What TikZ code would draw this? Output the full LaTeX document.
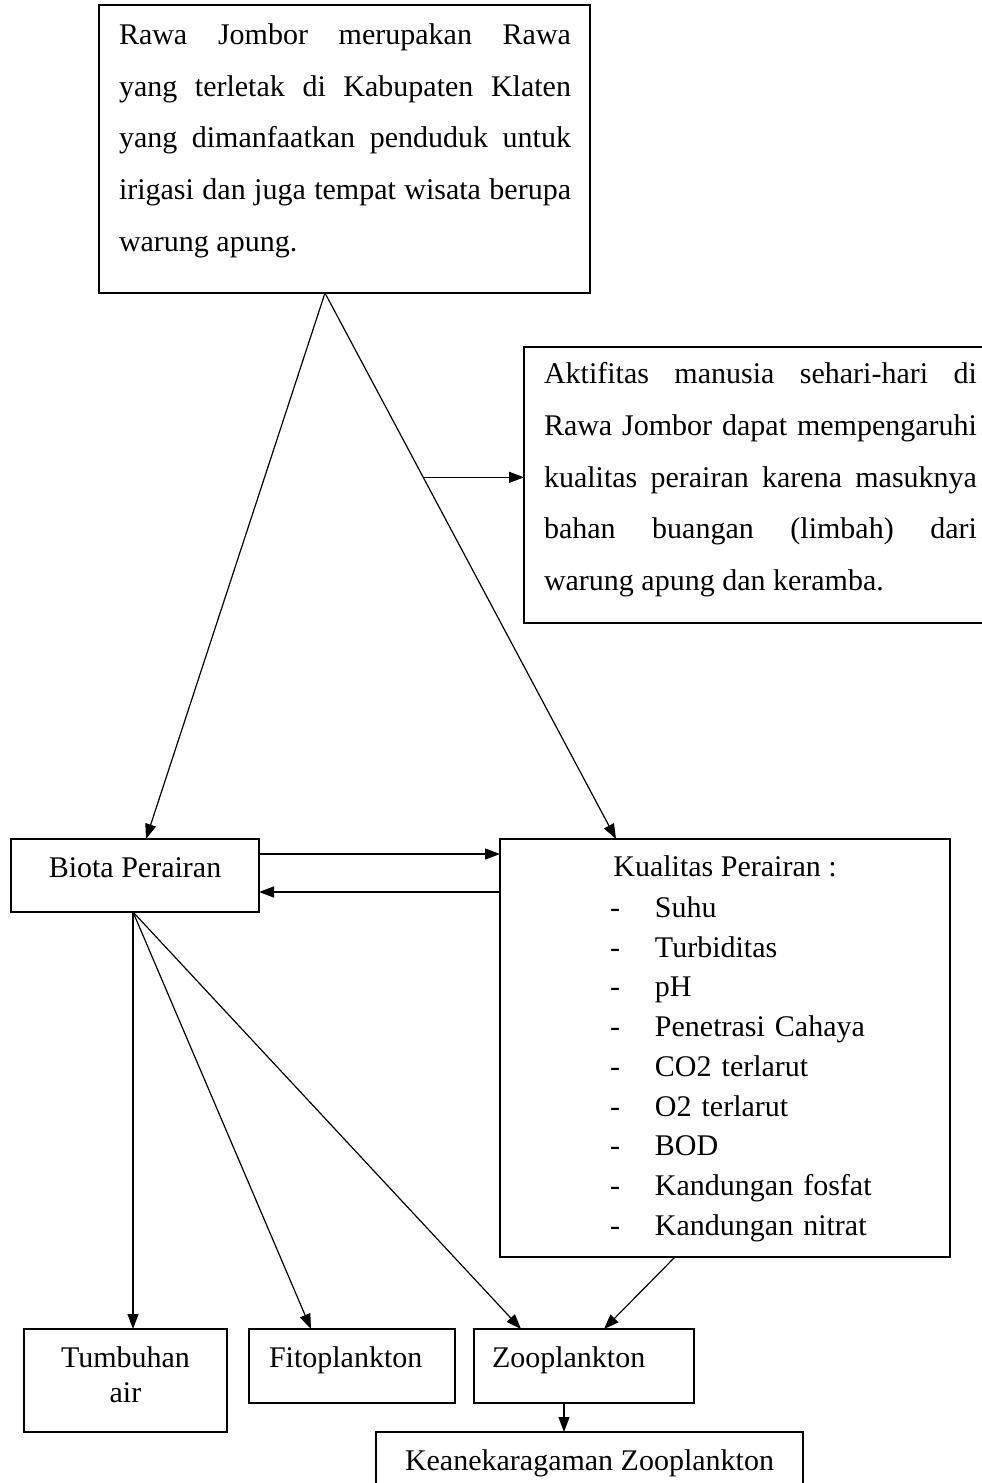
\documentclass[tikz,border=0pt]{standalone}
\usepackage{fontspec}
\setmainfont{Liberation Serif}
\usetikzlibrary{arrows.meta,calc}
\tikzset{
  box/.style={draw, line width=1.7pt, inner sep=0pt, outer sep=0pt, anchor=north west},
  txt/.style={inner sep=0pt, outer sep=0pt, font=\fontsize{30}{51.75}\selectfont},
  parbox/.style={txt, text width=#1, align=justify, anchor=north west},
  link/.style={line width=1.2pt, -{Triangle[length=15pt,width=11pt]}},
}
\begin{document}
\begin{tikzpicture}[x=1pt,y=-1pt]
\useasboundingbox (0,0) rectangle (982,1483);
% top box
\node[box, minimum width=491pt, minimum height=288pt] (rawa) at (99,5) {};
\node[parbox=452pt] (rawaT) at (119,23.5) {\tolerance=10000\noindent Rawa Jombor merupakan Rawa\linebreak yang terletak di Kabupaten Klaten\linebreak yang dimanfaatkan penduduk untuk\linebreak irigasi dan juga tempat wisata berupa\linebreak warung apung.};
% activity box
\node[box, minimum width=473pt, minimum height=276pt] (akt) at (524,347) {};
\node[parbox=433pt] (aktT) at (544,362.5) {\tolerance=10000\noindent Aktifitas manusia sehari-hari di\linebreak Rawa Jombor dapat mempengaruhi\linebreak kualitas perairan karena masuknya\linebreak bahan buangan (limbah) dari\linebreak warung apung dan keramba.};
% biota
\node[box, minimum width=248pt, minimum height=73pt] (biota) at (11,839) {};
\node[txt, anchor=base] (biotaT) at (135,877) {Biota Perairan};
% kualitas
\node[box, minimum width=450pt, minimum height=418pt] (kual) at (500,839) {};
\node[txt, anchor=base] (kualT) at (725,876) {Kualitas Perairan :};
\node[txt, anchor=north west, text width=330pt, align=left, font=\fontsize{30}{39.75}\selectfont] (list) at (610,896.5)
{\makebox[45pt][l]{-}Suhu\\
 \makebox[45pt][l]{-}Turbiditas\\
 \makebox[45pt][l]{-}pH\\
 \makebox[45pt][l]{-}Penetrasi Cahaya\\
 \makebox[45pt][l]{-}CO2 terlarut\\
 \makebox[45pt][l]{-}O2 terlarut\\
 \makebox[45pt][l]{-}BOD\\
 \makebox[45pt][l]{-}Kandungan fosfat\\
 \makebox[45pt][l]{-}Kandungan nitrat};
% bottom boxes
\node[box, minimum width=203pt, minimum height=103pt] (tumb) at (24,1329) {};
\node[txt, anchor=north, align=center, font=\fontsize{30}{35}\selectfont] (tumbT) at (125.5,1346.5) {Tumbuhan\\air};
\node[box, minimum width=206pt, minimum height=74pt] (fito) at (249,1329) {};
\node[txt, anchor=base west] (fitoT) at (269,1367) {Fitoplankton};
\node[box, minimum width=220pt, minimum height=74pt] (zoo) at (474,1329) {};
\node[txt, anchor=base west] (zooT) at (492,1367) {Zooplankton};
\node[box, minimum width=427pt, minimum height=80pt] (kean) at (376,1432) {};
\node[txt, anchor=base] (keanT) at (589.5,1470) {Keanekaragaman Zooplankton};
% connectors
\coordinate (apex) at ($(rawa.south west)+(226,0)$);
\draw[link] (apex) -- ($(biota.north west)+(135,0)$);
\draw[link] (apex) -- coordinate[pos=0.3376] (mid) ($(kual.north west)+(116,0)$);
\draw[link] (mid) -- (mid -| akt.west);
\draw[link] ($(biota.north east)+(0,15)$) -- ($(kual.north west)+(0,15)$);
\draw[link] ($(kual.north west)+(0,53)$) -- ($(biota.north east)+(0,53)$);
\coordinate (bfoot) at ($(biota.south west)+(122,0)$);
\draw[link] (bfoot) -- (bfoot |- tumb.north);
\draw[link] (bfoot) -- ($(fito.north west)+(62,0)$);
\draw[link] (bfoot) -- ($(zoo.north west)+(47,0)$);
\draw[link] ($(kual.south west)+(175,0)$) -- ($(zoo.north west)+(130,0)$);
\draw[link] ($(zoo.south west)+(90,0)$) -- ($(kean.north west)+(188,0)$);
\end{tikzpicture}
\end{document}
